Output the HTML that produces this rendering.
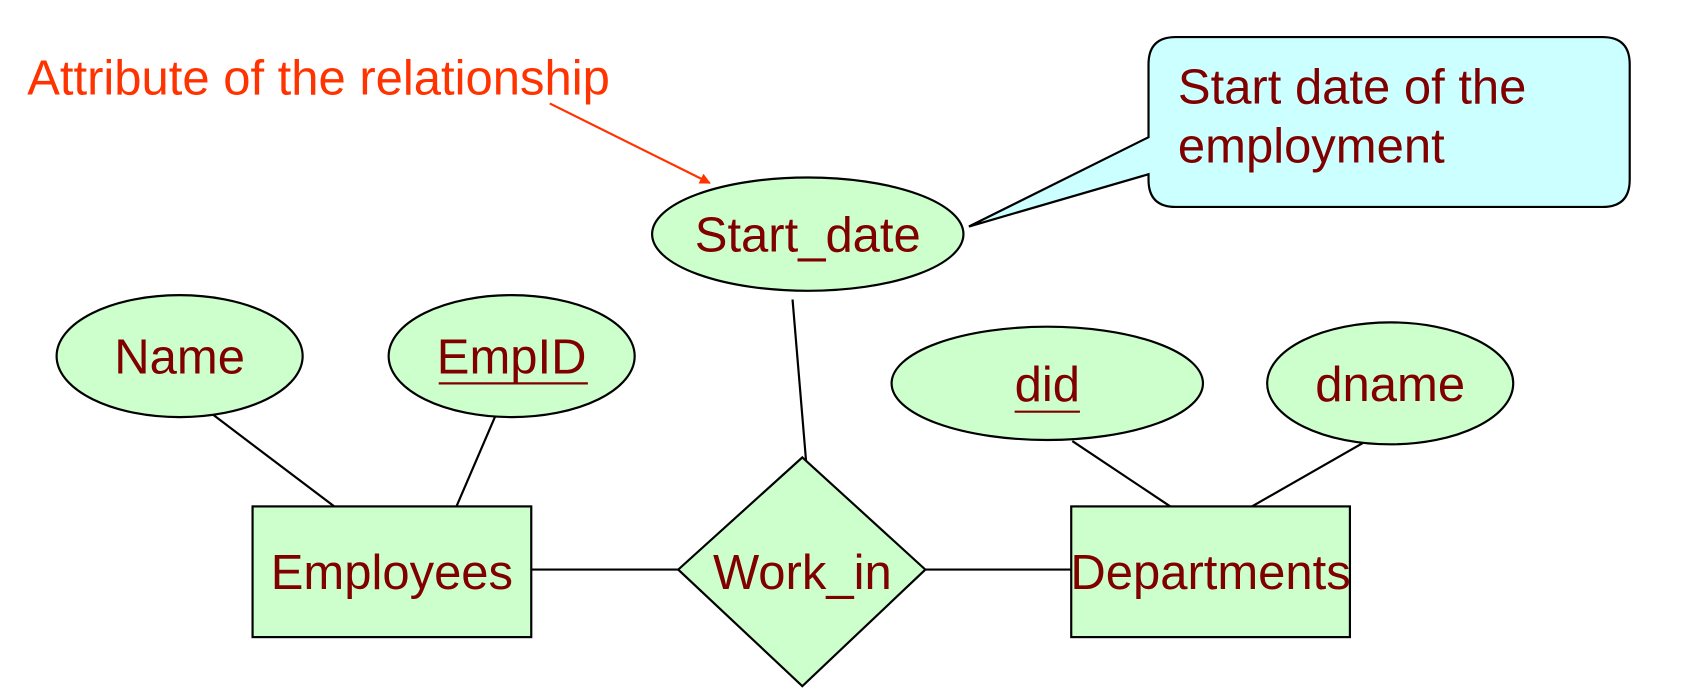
<!DOCTYPE html>
<html><head><meta charset="utf-8"><style>
html,body{margin:0;padding:0;background:#fff;}
svg{display:block;}
text{font-family:"Liberation Sans",Arial,sans-serif;}
</style></head><body>
<svg width="1707" height="697" viewBox="0 0 1568 640" preserveAspectRatio="none" xmlns="http://www.w3.org/2000/svg">
<defs><marker id="ah" markerWidth="10" markerHeight="10" refX="9" refY="5" orient="auto" markerUnits="userSpaceOnUse"><path d="M0,0 L10,5 L0,10 z" fill="#ff3300"/></marker></defs>
<g stroke="#000" stroke-width="2" fill="none">
<line x1="488" y1="523" x2="623" y2="523"/>
<line x1="850" y1="523" x2="984" y2="523"/>
<line x1="192" y1="378" x2="307" y2="465"/>
<line x1="458" y1="375" x2="415" y2="475"/>
<line x1="728" y1="275" x2="741" y2="430"/>
<line x1="985" y1="405" x2="1075" y2="465"/>
<line x1="1255" y1="405" x2="1150" y2="465"/>
</g>
<g fill="#ccffcc" stroke="#000" stroke-width="2">
<ellipse cx="165" cy="327" rx="113" ry="56"/>
<ellipse cx="470" cy="327" rx="113" ry="56"/>
<ellipse cx="742" cy="215" rx="143" ry="52"/>
<ellipse cx="962" cy="352" rx="143" ry="52"/>
<ellipse cx="1277" cy="352" rx="113" ry="56"/>
<rect x="232" y="465" width="256" height="120"/>
<rect x="984" y="465" width="256" height="120"/>
<polygon points="737,420 850,523 737,630 623,523"/>
</g>
<path d="M1080,34 H1472 Q1497,34 1497,59 V165 Q1497,190 1472,190 H1080 Q1055,190 1055,165 V160 L890,208 L1055,126 V59 Q1055,34 1080,34 Z" fill="#ccffff" stroke="#000" stroke-width="2"/>
<g fill="#800000" font-size="45">
<text x="165" y="343" text-anchor="middle">Name</text>
<text x="470" y="343" text-anchor="middle">EmpID</text>
<line x1="403" y1="352" x2="540" y2="352" stroke="#800000" stroke-width="2"/>
<text x="742" y="231" text-anchor="middle">Start_date</text>
<text x="962" y="368" text-anchor="middle">did</text>
<line x1="932" y1="378" x2="992" y2="378" stroke="#800000" stroke-width="2"/>
<text x="1277" y="368" text-anchor="middle">dname</text>
<text x="360" y="541" text-anchor="middle">Employees</text>
<text x="1112" y="541" text-anchor="middle">Departments</text>
<text x="737" y="541" text-anchor="middle">Work_in</text>
<text x="1082" y="95">Start date of the</text>
<text x="1082" y="149">employment</text>
</g>
<text x="25" y="87" font-size="45" fill="#ff3300">Attribute of the relationship</text>
<line x1="505" y1="95" x2="652" y2="168" stroke="#ff3300" stroke-width="2" marker-end="url(#ah)"/>
</svg>
</body></html>
